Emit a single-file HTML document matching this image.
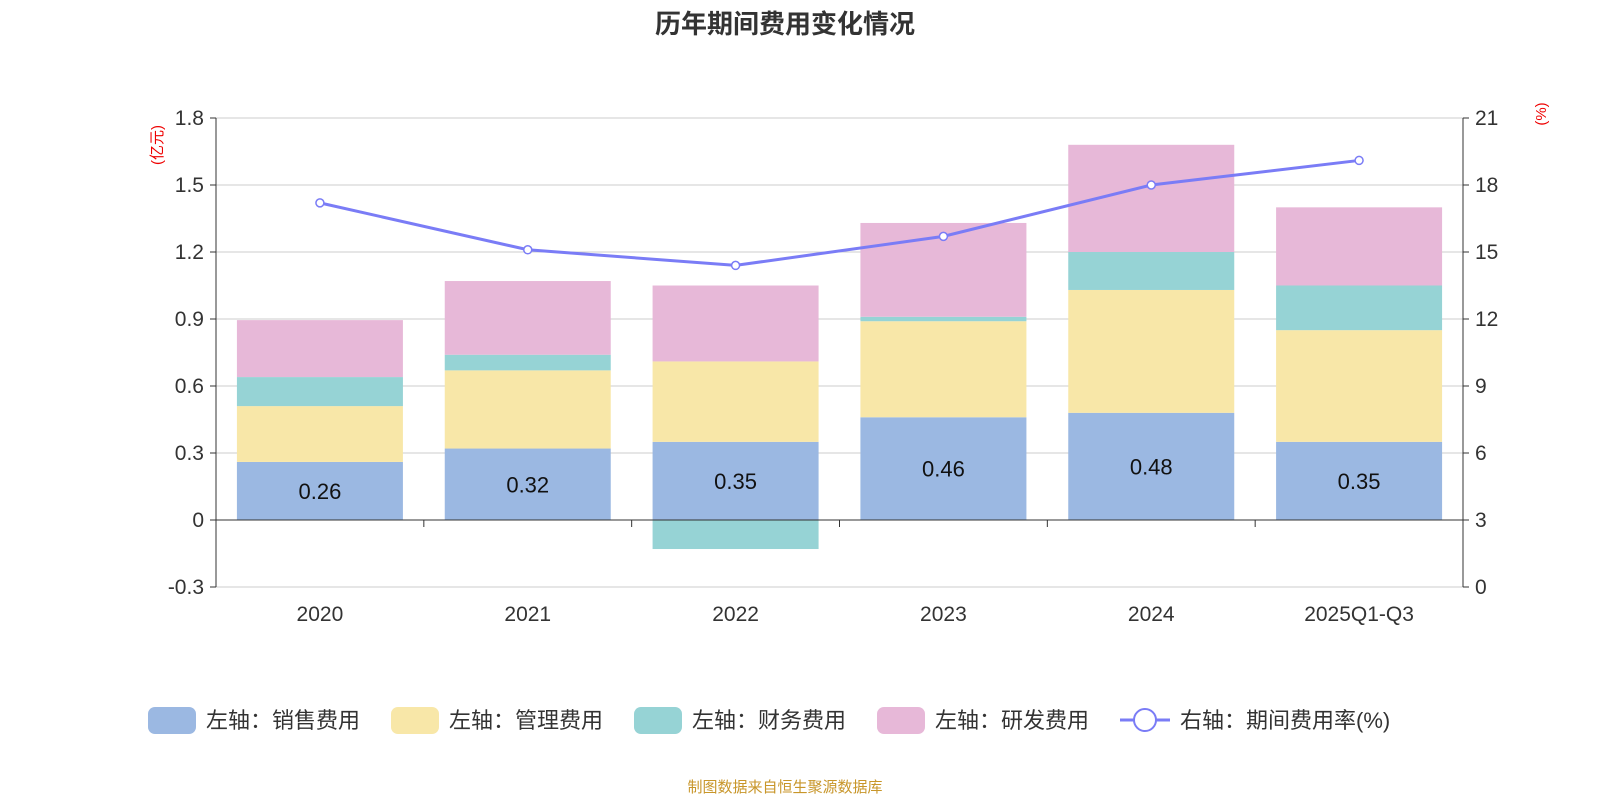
<!DOCTYPE html>
<html><head><meta charset="utf-8">
<style>
html,body{margin:0;padding:0;background:#fff;}
body{width:1600px;height:800px;overflow:hidden;font-family:"Liberation Sans","Noto Sans CJK SC",sans-serif;}
</style></head>
<body>
<svg id="chart" width="1600" height="800" xmlns="http://www.w3.org/2000/svg" font-family="Liberation Sans, Noto Sans CJK SC, sans-serif">
<text x="785" y="33" text-anchor="middle" font-size="26" font-weight="bold" fill="#333">历年期间费用变化情况</text>
<text transform="translate(162,145) rotate(-90)" text-anchor="middle" font-size="15" fill="#e00">(亿元)</text>
<text transform="translate(1546,114) rotate(-90)" text-anchor="middle" font-size="15" fill="#e00">(%)</text>
<g id="grid"></g><g id="bars"></g><g id="line"></g><g id="axes"></g>
<g id="legend"></g>
<text x="785" y="792" text-anchor="middle" font-size="15" fill="#c8962a">制图数据来自恒生聚源数据库</text>
</svg>
<script>
const categories=["2020","2021","2022","2023","2024","2025Q1-Q3"];
const sales=[0.26,0.32,0.35,0.46,0.48,0.35];
const mgmt=[0.25,0.35,0.36,0.43,0.55,0.50];
const fin=[0.13,0.07,-0.13,0.02,0.17,0.20];
const rd=[0.255,0.33,0.34,0.42,0.48,0.35];
const rate=[17.2,15.1,14.4,15.7,18.0,19.1];
const leftTicks=[-0.3,0,0.3,0.6,0.9,1.2,1.5,1.8];
const rightTicks=[0,3,6,9,12,15,18,21];

const NS="http://www.w3.org/2000/svg";
const X0=216,X1=1463,TOP=118,BOT=587;
const yL=v=>TOP+(1.8-v)/2.1*(BOT-TOP);
const yR=v=>BOT-v/21*(BOT-TOP);
const bw=(X1-X0)/categories.length;
const xc=i=>X0+bw*(i+0.5);
function mk(tag,attrs,parent,text){const e=document.createElementNS(NS,tag);for(const k in attrs)e.setAttribute(k,attrs[k]);if(text!==undefined)e.textContent=text;parent.appendChild(e);return e;}
const G=id=>document.getElementById(id);

leftTicks.forEach((t,i)=>{
  const y=yL(t);
  const l=mk('line',{x1:X0,x2:X1,y1:y,y2:y,stroke:'#ccc','stroke-width':1},G('grid'));
  
  
  const tx=mk('text',{x:X0-12,y:y+7,'text-anchor':'end','font-size':21,fill:'#333'},G('axes'),String(t));
  
  
  const tk=mk('line',{x1:X0-6,x2:X0,y1:y,y2:y,stroke:'#333'},G('axes'));
  
  
});
rightTicks.forEach(t=>{
  const y=yR(t);
  const tx=mk('text',{x:X1+12,y:y+7,'font-size':21,fill:'#333'},G('axes'),String(t));
  
  
  const tk=mk('line',{x1:X1,x2:X1+6,y1:y,y2:y,stroke:'#333'},G('axes'));
  
  
});
let a=mk('line',{x1:X0,x2:X0,y1:TOP,y2:BOT,stroke:'#333'},G('axes'));

a=mk('line',{x1:X1,x2:X1,y1:TOP,y2:BOT,stroke:'#333'},G('axes'));

a=mk('line',{x1:X0,x2:X1,y1:yL(0),y2:yL(0),stroke:'#333'},G('axes'));


const series=[[sales,'#9bb8e2','sales'],[mgmt,'#f8e7a8','mgmt'],[fin,'#96d3d5','finance'],[rd,'#e7b8d8','rd']];
categories.forEach((c,i)=>{
  let pos=0,neg=0;
  const w=166,x=xc(i)-w/2;
  series.forEach(([arr,col,nm])=>{
    const v=arr[i];let y0,y1;
    if(v>=0){y0=pos;y1=pos+v;pos=y1;}else{y0=neg;y1=neg+v;neg=y1;}
    const top=Math.min(yL(y0),yL(y1)),h=Math.abs(yL(y1)-yL(y0));
    const r=mk('rect',{x:x,y:top,width:w,height:h,fill:col},G('bars'));
    
    
  });
  const lb=mk('text',{x:xc(i),y:(yL(0)+yL(sales[i]))/2+8,'text-anchor':'middle','font-size':22,fill:'#111'},G('bars'),sales[i].toFixed(2));
  
  
  const xl=mk('text',{x:xc(i),y:621,'text-anchor':'middle','font-size':21,fill:'#333'},G('axes'),c);
  
  
  if(i>0){const tk=mk('line',{x1:X0+bw*i,x2:X0+bw*i,y1:yL(0),y2:yL(0)+7,stroke:'#333'},G('axes'));
  }
});
const pts=rate.map((v,i)=>xc(i)+','+yR(v)).join(' ');
const pl=mk('polyline',{points:pts,fill:'none',stroke:'#7a7cf6','stroke-width':3},G('line'));


rate.forEach((v,i)=>{
  const c=mk('circle',{cx:xc(i),cy:yR(v),r:4,fill:'#fff',stroke:'#7a7cf6','stroke-width':1.5},G('line'));
  
  
});
const leg=[['左轴：销售费用','#9bb8e2',148],['左轴：管理费用','#f8e7a8',391],['左轴：财务费用','#96d3d5',634],['左轴：研发费用','#e7b8d8',877]];
leg.forEach(([t,col,x])=>{
  const r=mk('rect',{x:x,y:707,width:48,height:27,rx:7,fill:col},G('legend'));
  
  
  const tx=mk('text',{x:x+58,y:728,'font-size':22,fill:'#333'},G('legend'),t);
  
  
});
let l=mk('line',{x1:1120,x2:1170,y1:720,y2:720,stroke:'#7a7cf6','stroke-width':3},G('legend'));

l=mk('circle',{cx:1145,cy:720,r:11,fill:'#fff',stroke:'#7a7cf6','stroke-width':2},G('legend'));

l=mk('text',{x:1180,y:728,'font-size':22,fill:'#333'},G('legend'),'右轴：期间费用率(%)');

</script>
</body></html>
